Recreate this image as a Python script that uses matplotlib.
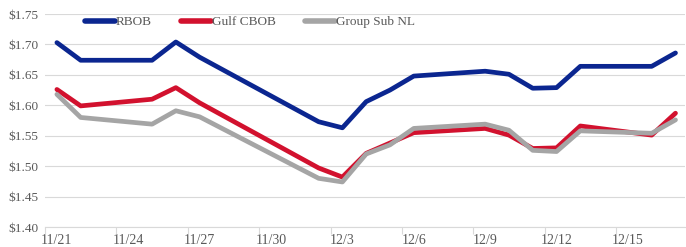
import numpy as np
import pandas as pd
import matplotlib
matplotlib.use("Agg")
import matplotlib.pyplot as plt
import matplotlib.dates as mdates
from matplotlib.ticker import FixedLocator, FuncFormatter

# торговые дни (выходные и праздник пропущены)
dates = ["2019-11-21", "2019-11-22", "2019-11-25", "2019-11-26", "2019-11-27",
         "2019-12-02", "2019-12-03", "2019-12-04", "2019-12-05", "2019-12-06",
         "2019-12-09", "2019-12-10", "2019-12-11", "2019-12-12", "2019-12-13",
         "2019-12-16", "2019-12-17"]

rbob = [1.703, 1.674, 1.674, 1.704, 1.679, 1.573, 1.563, 1.606, 1.625, 1.648,
        1.656, 1.651, 1.628, 1.629, 1.664, 1.664, 1.686]
gulf_cbob = [1.626, 1.599, 1.610, 1.629, 1.604, 1.497, 1.482, 1.521, 1.538, 1.555,
             1.562, 1.551, 1.529, 1.530, 1.566, 1.551, 1.587]
group_sub_nl = [1.618, 1.580, 1.569, 1.591, 1.581, 1.480, 1.474, 1.520, 1.535, 1.562,
                1.569, 1.559, 1.526, 1.524, 1.558, 1.554, 1.576]

series_names = ["RBOB", "Gulf CBOB", "Group Sub NL"]
colors = ["#0b2690", "#d2112e", "#a5a5a5"]

y_ticks = [1.40, 1.45, 1.50, 1.55, 1.60, 1.65, 1.70, 1.75]

x = mdates.date2num(pd.to_datetime(dates))
start = x[0]

plt.rcParams['font.family'] = ['Liberation Serif', 'DejaVu Serif']
text_col = "#595959"
grid_col = "#d9d9d9"

fig = plt.figure(figsize=(6.86, 2.47), dpi=100)
ax = fig.add_axes([45 / 686, 20 / 247, 640 / 686, 213 / 247])

for vals, name, c in zip([rbob, gulf_cbob, group_sub_nl], series_names, colors):
    ax.plot(x, vals, color=c, lw=3.4, label=name, solid_joinstyle='round',
            solid_capstyle='round')

ax.set_ylim(1.40, 1.75)
ax.set_yticks(y_ticks)
ax.yaxis.set_major_formatter(FuncFormatter(lambda v, p: f"${v:.2f}"))
ax.set_xlim(start - 0.5, start + 26.4)

# подписи по центру дня, засечки между днями
major = [start + 3 * i for i in range(9)]
minor = [start - 0.5 + 3 * i for i in range(10)]
ax.xaxis.set_major_locator(FixedLocator(major))
ax.xaxis.set_minor_locator(FixedLocator(minor))
ax.xaxis.set_major_formatter(FuncFormatter(
    lambda v, p: f"{mdates.num2date(v).month}/{mdates.num2date(v).day}"))

ax.grid(axis='y', color=grid_col, lw=0.8)
ax.set_axisbelow(True)
for s in ['top', 'right', 'left']:
    ax.spines[s].set_visible(False)
ax.spines['bottom'].set_color(grid_col)
ax.spines['bottom'].set_linewidth(0.8)

ax.tick_params(axis='y', length=0, labelsize=9.5, labelcolor=text_col, pad=5)
ax.tick_params(axis='x', which='major', length=0, labelsize=10, labelcolor=text_col, pad=5)
ax.tick_params(axis='x', which='minor', length=5, color=grid_col, width=0.8)

leg = ax.legend(loc='center left', bbox_to_anchor=(0.052, 0.962), ncol=3, frameon=False,
                fontsize=9.5, handlelength=2.3, handletextpad=0.05, columnspacing=2.2,
                labelcolor=text_col, borderpad=0)
for h in leg.get_lines():
    h.set_linewidth(4.0)

fig.savefig("out.png", dpi=100)
